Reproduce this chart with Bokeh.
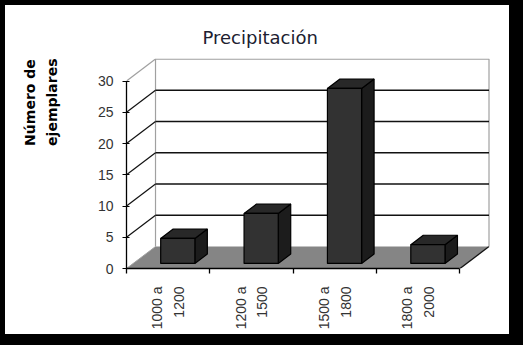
import math
from bokeh.plotting import figure
from bokeh.models import Range1d, FixedTicker, LinearAxis, Title
from bokeh.embed import file_html
from bokeh.resources import INLINE

# ---- data ----
categories = ["1000 a\n1200", "1200 a\n1500", "1500 a\n1800", "1800 a\n2000"]
values = [4, 8, 28, 3]
y_ticks = [0, 5, 10, 15, 20, 25, 30]
title_text = "Precipitación"
y_label_text = "Número de\nejemplares"

# ---- 3D geometry (data units) ----
n = len(categories)
YMAX = y_ticks[-1]
DX = 0.348   # full depth, x direction
DY = 3.51    # full depth, y direction
F1, F2 = 0.23, 0.66   # bar front / back depth fractions
BAR_OFF, BAR_W = 0.33, 0.41
Y_TOP = YMAX + DY + 0.09

FONT = "Liberation Sans"

p = figure(width=523, height=345, output_backend="svg", toolbar_location=None,
           x_range=Range1d(0, n + DX + 0.03), y_range=Range1d(0, Y_TOP),
           x_axis_type=None, y_axis_type=None,
           min_border_left=121, min_border_right=37, min_border_top=53, min_border_bottom=82)
p.background_fill_color = "white"
p.border_fill_color = "white"
p.outline_line_color = None
p.styles = {"border-style": "solid", "border-color": "black",
            "border-width": "5px 14px 11px 5px", "overflow": "hidden"}

# title
p.title.text = title_text
p.title.text_font = "DejaVu Sans"
p.title.text_font_size = "18px"
p.title.text_font_style = "normal"
p.title.text_color = "#202030"
p.title.align = "left"
p.title.offset = 76
p.title.standoff = 21

# floor
p.patch([0, n, n + DX, DX], [0, 0, DY, DY], fill_color="#858585", line_color=None)
p.line([n, n + DX], [0, DY], line_color="#111111", line_width=1.3)

# back wall borders (gray)
p.line([DX, DX, n + DX, n + DX], [DY, YMAX + DY, YMAX + DY, DY], line_color="#a0a0a0", line_width=1.2)

# grid lines on back wall and side wall diagonals
for t in y_ticks[1:]:
    col = "#a0a0a0" if t == YMAX else "#111111"
    if t != YMAX:
        p.line([DX, n + DX], [t + DY, t + DY], line_color=col, line_width=1.5)
    p.line([0, DX], [t, t + DY], line_color=col, line_width=1.2)
p.line([0, DX], [0, DY], line_color="#a0a0a0", line_width=1.0)

# bars
front_xs, front_ys, top_xs, top_ys, side_xs, side_ys = [], [], [], [], [], []
ddx = (F2 - F1) * DX
ddy = (F2 - F1) * DY
for i, v in enumerate(values):
    xl = i + BAR_OFF + F1 * DX
    xr = xl + BAR_W
    yb = F1 * DY
    yt = v + F1 * DY
    front_xs.append([xl, xr, xr, xl]); front_ys.append([yb, yb, yt, yt])
    top_xs.append([xl, xr, xr + ddx, xl + ddx]); top_ys.append([yt, yt, yt + ddy, yt + ddy])
    side_xs.append([xr, xr + ddx, xr + ddx, xr]); side_ys.append([yb, yb + ddy, yt + ddy, yt])

p.patches(side_xs, side_ys, fill_color="#1c1c1c", line_color="black", line_width=1.2)
p.patches(top_xs, top_ys, fill_color="#282828", line_color="black", line_width=1.2)
p.patches(front_xs, front_ys, fill_color="#323232", line_color="black", line_width=1.2)

# y axis
yax = LinearAxis(ticker=FixedTicker(ticks=y_ticks), bounds=(0, YMAX))
yax.axis_line_color = "black"
yax.axis_line_width = 1.3
yax.major_tick_out = 4
yax.major_tick_in = 3
yax.minor_tick_out = 0
yax.minor_tick_in = 0
yax.major_label_standoff = 9
yax.major_label_text_font = FONT
yax.major_label_text_font_size = "14px"
yax.major_label_text_color = "#333333"
p.add_layout(yax, "left")

# invisible spacer axis (one hidden tick) to push the y title outward
mid = YMAX / 2
spacer = LinearAxis(ticker=FixedTicker(ticks=[mid]))
spacer.axis_line_color = None
spacer.major_tick_line_color = None
spacer.minor_tick_line_color = None
spacer.major_tick_out = 24
spacer.major_tick_in = 0
spacer.minor_tick_out = 0
spacer.minor_tick_in = 0
spacer.major_label_standoff = 0
spacer.major_label_overrides = {mid: ""}
spacer.major_label_text_font_size = "0px"
p.add_layout(spacer, "left")

# y axis title: two lines, top-aligned
ylab = Title(text=y_label_text, align="right", standoff=21,
             text_font="DejaVu Sans", text_font_style="bold",
             text_font_size="14px", text_color="black", text_line_height=1.35)
p.add_layout(ylab, "left")

# x axis (category labels at centers, tick marks at boundaries)
centers = [i + 0.5 for i in range(n)]
xax = LinearAxis(ticker=FixedTicker(ticks=centers, minor_ticks=list(range(n + 1))), bounds=(0, n))
xax.major_label_overrides = {c: lab for c, lab in zip(centers, categories)}
xax.major_label_orientation = math.pi / 2
xax.axis_line_color = "black"
xax.axis_line_width = 1.3
xax.major_tick_out = 0
xax.major_tick_in = 0
xax.minor_tick_out = 5
xax.minor_tick_in = 0
xax.minor_tick_line_color = "black"
xax.minor_tick_line_width = 1.3
xax.major_label_standoff = 13
xax.major_label_text_font = FONT
xax.major_label_text_font_size = "14px"
xax.major_label_text_color = "#333333"
xax.major_label_text_align = "right"
xax.major_label_text_line_height = 1.35
p.add_layout(xax, "below")

open("out.html", "w").write(file_html(p, INLINE))
